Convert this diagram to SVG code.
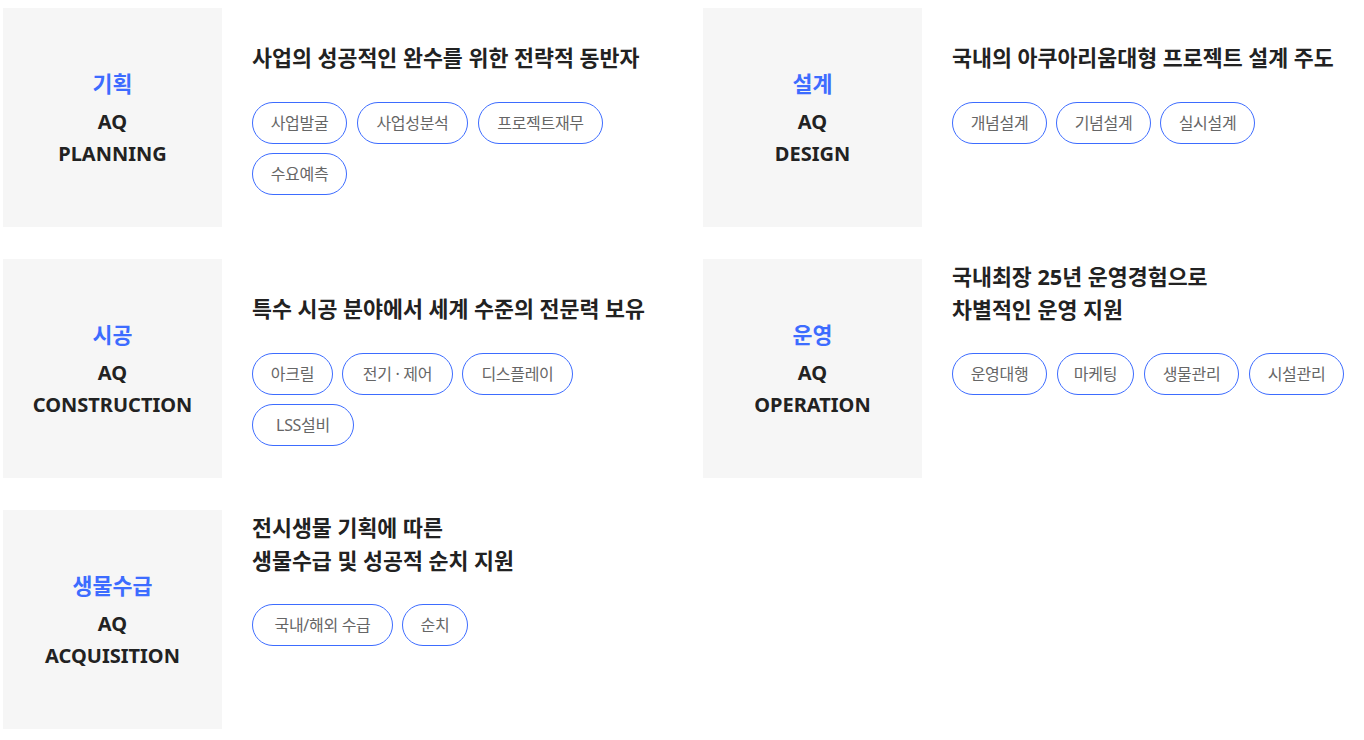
<svg xmlns="http://www.w3.org/2000/svg" width="1364" height="740" viewBox="0 0 1364 740">
<style>
.box{fill:#f6f6f6}
.ko{font-family:"Noto Sans","Noto Sans CJK KR",sans-serif;font-size:21.7px;font-weight:700;fill:#3d6cff;text-anchor:middle}
.en{font-family:"Noto Sans","Noto Sans CJK KR",sans-serif;font-size:20px;font-weight:700;fill:#222;text-anchor:middle}
.title{font-family:"Noto Sans","Noto Sans CJK KR",sans-serif;font-size:21.7px;font-weight:700;fill:#222}
.pill{fill:#fff;stroke:#3d6cff;stroke-width:1}
.tag{font-family:"Noto Sans","Noto Sans CJK KR",sans-serif;font-size:16px;fill:#666;text-anchor:middle;letter-spacing:-0.3px}
</style>
<rect width="1364" height="740" fill="#fff"/>

<g id="planning">
<rect class="box" x="3" y="8" width="219" height="219"/>
<text class="ko" x="112.5" y="92">기획</text>
<text class="en" x="112.5" y="129">AQ</text>
<text class="en" x="112.5" y="161">PLANNING</text>
<text class="title" x="252" y="66">사업의 성공적인 완수를 위한 전략적 동반자</text>
<rect class="pill" x="252.5" y="102.5" width="94" height="41" rx="20.5"/>
<text class="tag" x="299.5" y="128.5">사업발굴</text>
<rect class="pill" x="357.5" y="102.5" width="110" height="41" rx="20.5"/>
<text class="tag" x="412.5" y="128.5">사업성분석</text>
<rect class="pill" x="478.5" y="102.5" width="124" height="41" rx="20.5"/>
<text class="tag" x="540.5" y="128.5">프로젝트재무</text>
<rect class="pill" x="252.5" y="153.5" width="94" height="41" rx="20.5"/>
<text class="tag" x="299.5" y="179.5">수요예측</text>
</g>

<g id="design">
<rect class="box" x="703" y="8" width="219" height="219"/>
<text class="ko" x="812.5" y="92">설계</text>
<text class="en" x="812.5" y="129">AQ</text>
<text class="en" x="812.5" y="161">DESIGN</text>
<text class="title" x="952" y="66">국내의 아쿠아리움대형 프로젝트 설계 주도</text>
<rect class="pill" x="952.5" y="102.5" width="94" height="41" rx="20.5"/>
<text class="tag" x="999.5" y="128.5">개념설계</text>
<rect class="pill" x="1056.5" y="102.5" width="94" height="41" rx="20.5"/>
<text class="tag" x="1103.5" y="128.5">기념설계</text>
<rect class="pill" x="1160.5" y="102.5" width="94" height="41" rx="20.5"/>
<text class="tag" x="1207.5" y="128.5">실시설계</text>
</g>

<g id="construction">
<rect class="box" x="3" y="259" width="219" height="219"/>
<text class="ko" x="112.5" y="343">시공</text>
<text class="en" x="112.5" y="380">AQ</text>
<text class="en" x="112.5" y="412">CONSTRUCTION</text>
<text class="title" x="252" y="317">특수 시공 분야에서 세계 수준의 전문력 보유</text>
<rect class="pill" x="252.5" y="353.5" width="80" height="41" rx="20.5"/>
<text class="tag" x="292.5" y="379.5">아크릴</text>
<rect class="pill" x="342.5" y="353.5" width="110" height="41" rx="20.5"/>
<text class="tag" x="397.5" y="379.5">전기 · 제어</text>
<rect class="pill" x="462.5" y="353.5" width="110" height="41" rx="20.5"/>
<text class="tag" x="517.5" y="379.5">디스플레이</text>
<rect class="pill" x="252.5" y="404.5" width="101" height="41" rx="20.5"/>
<text class="tag" x="303" y="430.5">LSS설비</text>
</g>

<g id="operation">
<rect class="box" x="703" y="259" width="219" height="219"/>
<text class="ko" x="812.5" y="343">운영</text>
<text class="en" x="812.5" y="380">AQ</text>
<text class="en" x="812.5" y="412">OPERATION</text>
<text class="title" x="952" y="285">국내최장 25년 운영경험으로</text>
<text class="title" x="952" y="318">차별적인 운영 지원</text>
<rect class="pill" x="952.5" y="353.5" width="94" height="41" rx="20.5"/>
<text class="tag" x="999.5" y="379.5">운영대행</text>
<rect class="pill" x="1057.5" y="353.5" width="76" height="41" rx="20.5"/>
<text class="tag" x="1095.5" y="379.5">마케팅</text>
<rect class="pill" x="1144.5" y="353.5" width="94" height="41" rx="20.5"/>
<text class="tag" x="1191.5" y="379.5">생물관리</text>
<rect class="pill" x="1249.5" y="353.5" width="94" height="41" rx="20.5"/>
<text class="tag" x="1296.5" y="379.5">시설관리</text>
</g>

<g id="acquisition">
<rect class="box" x="3" y="510" width="219" height="219"/>
<text class="ko" x="112.5" y="594">생물수급</text>
<text class="en" x="112.5" y="631">AQ</text>
<text class="en" x="112.5" y="663">ACQUISITION</text>
<text class="title" x="252" y="536">전시생물 기획에 따른</text>
<text class="title" x="252" y="569">생물수급 및 성공적 순치 지원</text>
<rect class="pill" x="252.5" y="604.5" width="140" height="41" rx="20.5"/>
<text class="tag" x="322.5" y="630.5">국내/해외 수급</text>
<rect class="pill" x="402.5" y="604.5" width="65" height="41" rx="20.5"/>
<text class="tag" x="435" y="630.5">순치</text>
</g>

<g id="connectors"></g>
</svg>
